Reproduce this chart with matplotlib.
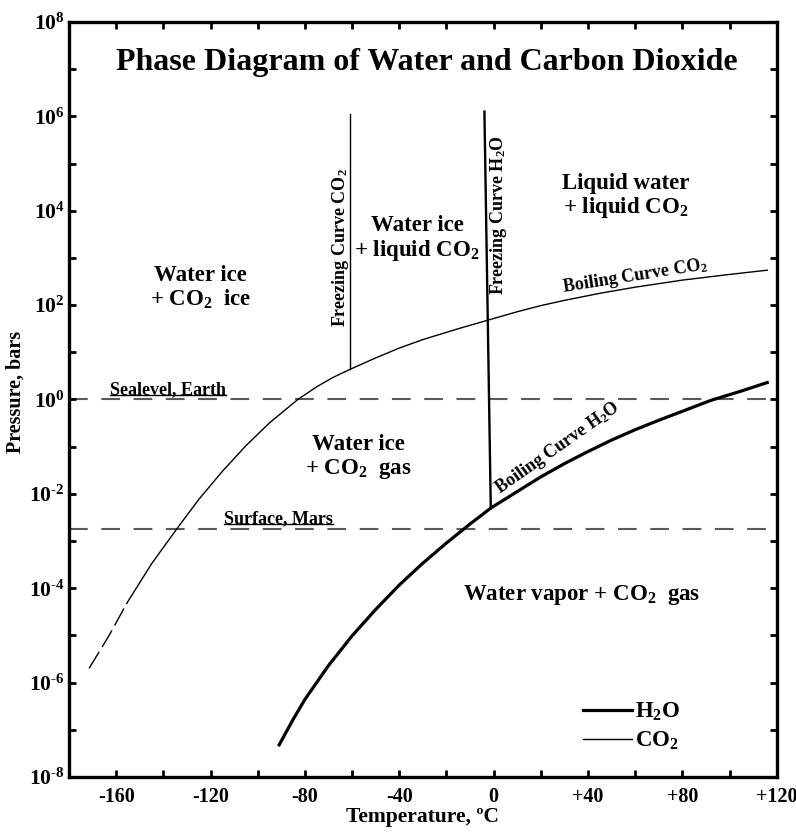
import math
import matplotlib
matplotlib.use("Agg")
import matplotlib.pyplot as plt
from matplotlib.ticker import FixedLocator, FuncFormatter, NullFormatter
from matplotlib.lines import Line2D

plt.rcParams['font.family'] = ['Liberation Serif', 'DejaVu Serif']
plt.rcParams['font.weight'] = 'bold'
plt.rcParams['mathtext.fontset'] = 'custom'
plt.rcParams['mathtext.rm'] = 'Liberation Serif:bold'
plt.rcParams['mathtext.it'] = 'Liberation Serif:bold'
plt.rcParams['mathtext.bf'] = 'Liberation Serif:bold'

# ---- data -------------------------------------------------------------
# CO2 sublimation curve, extrapolated (dashed) low-temperature part
co2_ext_T = [-171.5, -163.0, -155.5]
co2_ext_P = [2.0e-6, 1.0e-5, 4.8e-5]

# CO2 sublimation + boiling curve (solid)
co2_T = [-155.5, -145, -134, -125, -115, -105, -95, -83, -75, -68, -60.8,
         -50, -40, -30, -15, -2.5, 10, 20, 30, 45, 60, 80, 100, 116]
co2_P = [4.8e-5, 3.3e-4, 1.9e-3, 7.6e-3, 3.0e-2, 0.105, 0.32, 1.0, 1.86,
         2.95, 4.37, 7.6, 12.3, 18.6, 31.6, 47.9, 72.4, 97.7, 126, 178,
         240, 339, 447, 550]

# CO2 freezing (solid/liquid) line
co2_freeze_T = [-60.8, -60.8]
co2_freeze_P = [4.37, 1.15e6]

# H2O sublimation + boiling curve
h2o_T = [-90.9, -85, -80, -70, -60, -50, -40, -30, -20, -10, -1.2,
         10, 20, 30, 40, 50, 60, 70, 80, 92, 105, 116]
h2o_P = [4.8e-8, 1.66e-7, 4.4e-7, 2.3e-6, 9.8e-6, 3.55e-5, 1.17e-4,
         3.4e-4, 9.1e-4, 2.3e-3, 5.0e-3, 1.12e-2, 2.29e-2, 4.37e-2,
         7.9e-2, 0.138, 0.229, 0.363, 0.562, 0.955, 1.51, 2.29]

# H2O freezing (solid/liquid) line
h2o_freeze_T = [-3.9, -1.2]
h2o_freeze_P = [1.26e6, 5.0e-3]

# reference pressures
sealevel_P = 1.0
mars_P = 1.8e-3

x_ticks = [-160, -120, -80, -40, 0, 40, 80, 120]
x_tick_labels = ['-160', '-120', '-80', '-40', '0', '+40', '+80', '+120']
x_minor = [-180, -140, -100, -60, -20, 20, 60, 100]
y_exponents = [-8, -6, -4, -2, 0, 2, 4, 6, 8]
y_minor_exponents = [-7, -5, -3, -1, 1, 3, 5, 7]

CO2 = r'CO$_2$'
H2O = r'H$_2$O'

# ---- figure -----------------------------------------------------------
fig = plt.figure(figsize=(7.96, 8.32), dpi=100)
ax = fig.add_axes([69 / 796, 1 - 777 / 832, (776.7 - 69) / 796, (777 - 22) / 832])
ax.set_yscale('log')
ax.set_xlim(-180, 120)
ax.set_ylim(1e-8, 1e8)

dash_col = '#5a5a5a'
ax.axhline(sealevel_P, color=dash_col, lw=1.5, ls=(0, (9, 6.5)), zorder=1)
ax.axhline(mars_P, color=dash_col, lw=1.5, ls=(0, (9, 6.5)), zorder=1)

ax.plot(co2_ext_T, co2_ext_P, color='black', lw=1.0, ls=(0, (14, 4)))
ax.plot(co2_T, co2_P, color='black', lw=1.0)
ax.plot(co2_freeze_T, co2_freeze_P, color='black', lw=1.0)
ax.plot(h2o_T, h2o_P, color='black', lw=2.3)
ax.plot(h2o_freeze_T, h2o_freeze_P, color='black', lw=1.7)

# ---- axes styling -----------------------------------------------------
for s in ax.spines.values():
    s.set_linewidth(2.4)

ax.xaxis.set_major_locator(FixedLocator(x_ticks))
ax.xaxis.set_minor_locator(FixedLocator(x_minor))
ax.set_xticklabels(x_tick_labels)
ax.yaxis.set_major_locator(FixedLocator([10.0 ** e for e in y_exponents]))
ax.yaxis.set_minor_locator(FixedLocator([10.0 ** e for e in y_minor_exponents]))


def pow_label(v, pos):
    e = int(round(math.log10(v)))
    return r'$\mathbf{10^{%s}}$' % (('%d' % e).replace('-', '\u2010'))


ax.yaxis.set_major_formatter(FuncFormatter(pow_label))
ax.yaxis.set_minor_formatter(NullFormatter())
ax.tick_params(which='both', direction='in', top=True, right=True,
               length=5, width=2.0)
ax.tick_params(axis='x', pad=7, labelsize=14.5)
ax.tick_params(axis='y', pad=3, labelsize=15.5)
for lab in ax.get_xticklabels() + ax.get_yticklabels():
    lab.set_fontweight('bold')

ax.set_xlabel('Temperature, \u00baC', fontsize=15.5, fontweight='bold')
ax.xaxis.set_label_coords(0.499, -0.040)
ax.set_ylabel('Pressure, bars', fontsize=14.5, fontweight='bold')
ax.yaxis.set_label_coords(-0.062, 0.51)

# ---- texts ------------------------------------------------------------
ax.text(0.506, 0.947, 'Phase Diagram of Water and Carbon Dioxide',
        transform=ax.transAxes, ha='center', va='center',
        fontsize=23, fontweight='bold')

region_kw = dict(ha='center', va='center', fontsize=16.5, fontweight='bold',
                 linespacing=1.1)
ax.text(-124.4, 10 ** 2.36, 'Water ice\n+ ' + CO2 + '  ice', **region_kw)
ax.text(-32.4, 10 ** 3.40, 'Water ice\n+ liquid ' + CO2, **region_kw)
ax.text(55.9, 10 ** 4.30, 'Liquid water\n+ liquid ' + CO2, **region_kw)
ax.text(-57.4, 10 ** -1.23, 'Water ice\n+ ' + CO2 + '  gas', **region_kw)
ax.text(37.4, 10 ** -4.14, 'Water vapor + ' + CO2 + '  gas', **region_kw)

curve_kw = dict(ha='center', va='center', fontsize=13, fontweight='bold',
                rotation_mode='anchor')
ax.text(-64.7, 10 ** 3.22, 'Freezing Curve ' + CO2, rotation=90, **curve_kw)
ax.text(2.0, 10 ** 3.91, 'Freezing Curve ' + H2O, rotation=90, **curve_kw)
ax.text(59.7, 10 ** 2.62, 'Boiling Curve ' + CO2, rotation=9, **curve_kw)
ax.text(27.0, 10 ** -1.03, 'Boiling Curve ' + H2O, rotation=35, **curve_kw)

ref_labels = [
    ax.text(-138.0, 10 ** 0.12, 'Sealevel, Earth', ha='center', va='baseline',
            fontsize=13, fontweight='bold'),
    ax.text(-91.2, 10 ** -2.62, 'Surface, Mars', ha='center', va='baseline',
            fontsize=13, fontweight='bold'),
]

leg = ax.legend(handles=[Line2D([], [], color='black', lw=2.3, label=H2O),
                         Line2D([], [], color='black', lw=1.0, label=CO2)],
                loc='upper left', bbox_to_anchor=(0.727, 0.101), frameon=False,
                fontsize=16.5, handlelength=2.1, handletextpad=0.15,
                labelspacing=0.3, borderpad=0, borderaxespad=0)
for t in leg.get_texts():
    t.set_fontweight('bold')

# underline the reference-level labels using their rendered extents
fig.canvas.draw()
renderer = fig.canvas.get_renderer()
inv = ax.transAxes.inverted()
for t in ref_labels:
    bb = t.get_window_extent(renderer)
    (x0, y0), (x1, _) = inv.transform([(bb.x0, bb.y0), (bb.x1, bb.y1)])
    ax.plot([x0, x1], [y0 + 0.004, y0 + 0.004], transform=ax.transAxes,
            color='black', lw=1.0)

fig.savefig('out.png', dpi=100)
